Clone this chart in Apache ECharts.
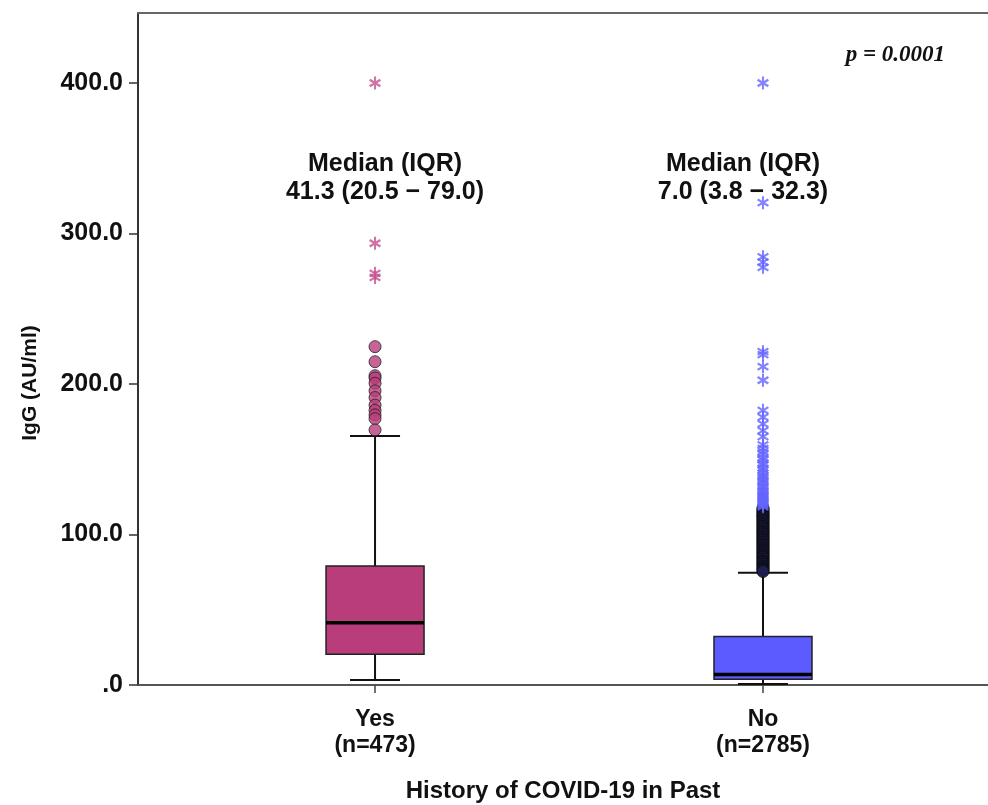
<!DOCTYPE html>
<html>
<head>
<meta charset="utf-8">
<script src="https://cdn.jsdelivr.net/npm/echarts@6/dist/echarts.min.js"></script>
<style>
html,body{margin:0;padding:0;background:#fff;}
#chart{width:988px;height:805px;}
</style>
</head>
<body>
<div id="chart"></div>
<script>
// ---- data ----
const categories = ['Yes', 'No'];
const groupSizes = ['n=473', 'n=2785'];
// [min whisker, Q1, median, Q3, max whisker]
const yesBox = [3.3, 20.5, 41.3, 79.0, 165.4];
const noBox = [0.6, 3.8, 7.0, 32.3, 74.5];
const yesCircles = [224.8, 214.8, 205.5, 204.0, 200.5, 195.5, 191.0, 186.0, 182.5, 179.5, 177.0, 169.5];
const yesStars = [400.0, 293.5, 273.5, 270.8];
const noStars = [400.0, 320.5, 284.5, 281.0, 277.5, 221.5, 219.5, 211.5, 202.5, 182.5, 178.0, 173.5,
  169.0, 165.0, 159.5, 157.2, 155.1, 153.4, 151.0, 149.6, 147.2, 146.3, 144.1, 142.8, 141.0, 139.3,
  138.1, 136.4, 135.2, 133.8, 132.0, 131.1, 129.4, 128.7, 127.1, 126.2, 125.0, 124.3, 123.1, 122.0,
  121.2, 120.1, 119.3, 118.4];
const noCircles = [117.6, 116.9, 116.1, 115.0, 114.6, 113.4, 112.8, 112.1, 111.2, 110.5, 109.6, 108.9,
  107.8, 107.2, 106.4, 105.5, 104.9, 103.8, 103.3, 102.2, 101.6, 100.7, 100.1, 99.2, 98.3, 97.6, 96.7,
  96.0, 95.1, 94.5, 93.4, 92.9, 91.8, 91.2, 90.3, 89.6, 88.7, 88.0, 87.1, 86.4, 85.5, 84.9, 83.8, 83.3,
  82.2, 81.6, 80.7, 80.0, 79.1, 78.5, 77.6, 76.9, 76.1, 75.4];
const medianText = [['Median (IQR)', '41.3 (20.5 \u2212 79.0)'], ['Median (IQR)', '7.0 (3.8 \u2212 32.3)']];
const pText = 'p = 0.0001';
const yName = 'IgG (AU/ml)';
const xName = 'History of COVID-19 in Past';
const yTicks = [0, 100, 200, 300, 400];
const xTicks = [0, 1];

// ---- styling ----
const boxColors = ['#b93d7b', '#5b5bff'];
const yesStarColor = '#c4508c';
const noStarColor = '#6464ff';
const asterisk = 'path://M-0.16,-1L0.16,-1L0.16,1L-0.16,1Z' +
  'M0.746,-0.639L0.946,-0.361L-0.746,0.639L-0.946,0.361Z' +
  'M-0.946,-0.361L-0.746,-0.639L0.946,0.361L0.746,0.639Z';
const font = '"Liberation Sans", Arial, sans-serif';

const chart = echarts.init(document.getElementById('chart'), null, {renderer: 'canvas'});
const xMin = -0.611, xMax = 1.58;

function renderBox(params, api) {
  const x = api.value(0);
  const pMin = api.coord([x, api.value(1)]);
  const pQ1 = api.coord([x, api.value(2)]);
  const pMed = api.coord([x, api.value(3)]);
  const pQ3 = api.coord([x, api.value(4)]);
  const pMax = api.coord([x, api.value(5)]);
  const cx = pMed[0];
  const half = 49, cap = 25;
  const line = {stroke: '#111', lineWidth: 2};
  return {
    type: 'group',
    children: [
      {type: 'line', shape: {x1: cx, y1: pMax[1], x2: cx, y2: pQ3[1]}, style: line},
      {type: 'line', shape: {x1: cx, y1: pQ1[1], x2: cx, y2: pMin[1]}, style: line},
      {type: 'line', shape: {x1: cx - cap, y1: pMax[1], x2: cx + cap, y2: pMax[1]}, style: line},
      {type: 'line', shape: {x1: cx - cap, y1: pMin[1], x2: cx + cap, y2: pMin[1]}, style: line},
      {type: 'rect', shape: {x: cx - half, y: pQ3[1], width: half * 2, height: pQ1[1] - pQ3[1]},
        style: {fill: boxColors[params.dataIndex], stroke: '#222', lineWidth: 1.5}},
      {type: 'line', shape: {x1: cx - half, y1: pMed[1], x2: cx + half, y2: pMed[1]},
        style: {stroke: '#000', lineWidth: 3.5}}
    ]
  };
}

chart.setOption({
  animation: false,
  backgroundColor: '#fff',
  grid: {left: 138, right: 0, top: 13, bottom: 120, outerBoundsMode: 'none', containLabel: false},
  xAxis: [{
    type: 'value', min: xMin, max: xMax, position: 'bottom',
    axisLine: {show: true, onZero: false, lineStyle: {color: '#555', width: 2}},
    axisTick: {show: true, customValues: xTicks, length: 8, lineStyle: {color: '#444', width: 1.5}},
    axisLabel: {
      customValues: xTicks, margin: 22, color: '#111', fontFamily: font, fontSize: 23, fontWeight: 'bold', lineHeight: 26,
      formatter: v => categories[Math.round(v)] + '\n(' + groupSizes[Math.round(v)] + ')'
    },
    splitLine: {show: false},
    name: xName, nameLocation: 'middle', nameGap: 94,
    nameTextStyle: {color: '#111', fontFamily: font, fontSize: 24, fontWeight: 'bold'}
  }, {
    type: 'value', min: xMin, max: xMax, position: 'top',
    axisLine: {show: true, onZero: false, lineStyle: {color: '#666', width: 2}},
    axisTick: {show: false}, axisLabel: {show: false}, splitLine: {show: false}
  }],
  yAxis: {
    type: 'value', min: 0, max: 446.5,
    axisLine: {show: true, onZero: false, lineStyle: {color: '#333', width: 2}},
    axisTick: {show: true, customValues: yTicks, length: 9, lineStyle: {color: '#333', width: 1.5}},
    axisLabel: {
      customValues: yTicks, margin: 15, color: '#111', fontFamily: font, fontSize: 25, fontWeight: 'bold',
      formatter: v => v === 0 ? '.0' : v.toFixed(1)
    },
    splitLine: {show: false}
  },
  series: [{
    type: 'custom',
    renderItem: renderBox,
    encode: {x: 0, y: [1, 2, 3, 4, 5]},
    data: [[0].concat(yesBox), [1].concat(noBox)],
    z: 2
  }, {
    type: 'scatter', symbol: 'circle', symbolSize: 12,
    itemStyle: {color: boxColors[0], borderColor: '#222', borderWidth: 1},
    data: yesCircles.map(v => [0, v]), z: 3
  }, {
    type: 'scatter', symbol: 'circle', symbolSize: 12,
    itemStyle: {color: '#1e1e50', borderColor: '#0a0a0a', borderWidth: 1},
    data: noCircles.map(v => [1, v]), z: 3
  }, {
    type: 'scatter', symbol: asterisk, symbolSize: [12, 13],
    itemStyle: {color: yesStarColor},
    data: yesStars.map(v => [0, v]), z: 4
  }, {
    type: 'scatter', symbol: asterisk, symbolSize: [12, 13],
    itemStyle: {color: noStarColor},
    data: noStars.map(v => [1, v]), z: 4
  }],
  graphic: [
    {type: 'text', x: 385, y: 150, style: {text: medianText[0].join('\n'), fill: '#111', font: 'bold 25px ' + font, lineHeight: 28, align: 'center', verticalAlign: 'top'}},
    {type: 'text', x: 743, y: 150, style: {text: medianText[1].join('\n'), fill: '#111', font: 'bold 25px ' + font, lineHeight: 28, align: 'center', verticalAlign: 'top'}},
    {type: 'text', x: 945, y: 55, style: {text: pText, fill: '#111', font: 'italic bold 23px "Liberation Serif", "Times New Roman", serif', align: 'right', verticalAlign: 'middle'}},
    {type: 'text', x: 30, y: 383, rotation: Math.PI / 2, style: {text: yName, fill: '#111', font: 'bold 21px ' + font, align: 'center', verticalAlign: 'middle'}}
  ]
});
</script>
</body>
</html>
